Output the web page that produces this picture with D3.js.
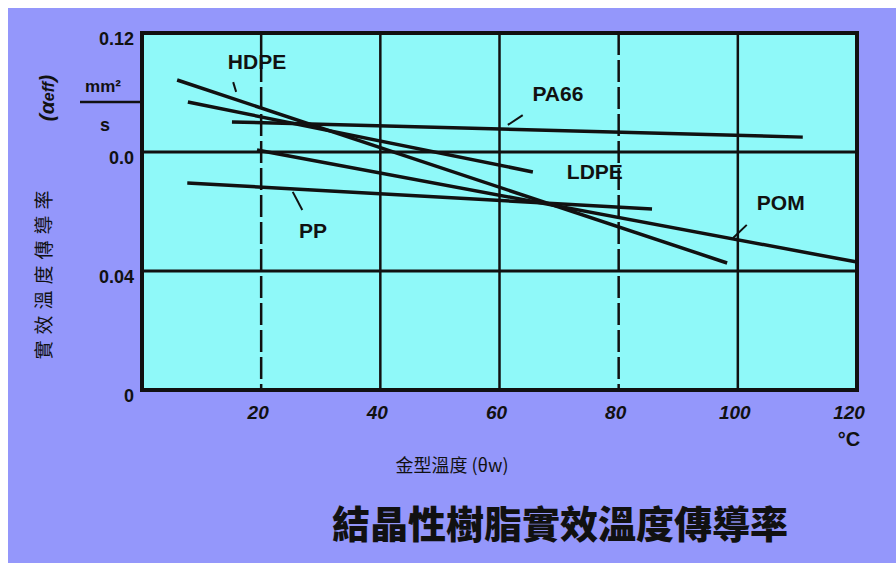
<!DOCTYPE html>
<meta charset="utf-8">
<head>
    <title>結晶性樹脂實效溫度傳導率</title>
    <script src="https://cdn.jsdelivr.net/npm/d3@7"></script>
</head>

<style>
    body { margin: 0; background: #fff; }
    text { font-family: "Liberation Sans", Arial, sans-serif; fill: #111; }
    .cjk { font-family: "Noto Sans CJK TC", "Noto Sans CJK JP", sans-serif; }
</style>

<svg></svg>

<script>
    // chart values
    var xTicks = [20, 40, 60, 80, 100, 120];
    var xTickLabels = ["20", "40", "60", "80", "100", "120"];
    var yTicks = [0, 0.04, 0.08, 0.12];
    var yTickLabels = ["0", "0.04", "0.0", "0.12"];
    var dashedX = [20, 80];

    var hdpe = [[5.9, 0.1042], [98.2, 0.0427]];
    var ldpe = [[7.7, 0.0968], [65.6, 0.0733]];
    var pp   = [[7.6, 0.0696], [85.6, 0.0608]];
    var pa66 = [[15.1, 0.0901], [110.9, 0.0850]];
    var pom  = [[19.3, 0.0807], [120, 0.0430]];

    var seriesNames = ["HDPE", "LDPE", "PP", "PA66", "POM"];
    var seriesData = [hdpe, ldpe, pp, pa66, pom];

    // label position [x, y] and leader [x1, y1, x2, y2], in data units
    var labelPos = [[19.3, 0.1106], [76, 0.0733], [28.7, 0.0538], [69.8, 0.0998], [107.2, 0.0629]];
    var leaders = [
        [15.3, 0.1035, 15.8, 0.1002],
        null,
        [25.3, 0.0666, 26.9, 0.0605],
        [61.4, 0.0891, 63.9, 0.0924],
        [99.2, 0.0511, 101.5, 0.0555]
    ];

    var W = 896, H = 563;
    var svg = d3.select('svg').attr('width', W).attr('height', H);

    svg.append('rect').attr('x', 8).attr('y', 8).attr('width', W - 8).attr('height', H - 8)
        .attr('fill', '#9497fb');

    var x = d3.scaleLinear().domain([0, 120]).range([142, 857]);
    var y = d3.scaleLinear().domain([0, 0.12]).range([390, 33]);

    // plot area
    svg.append('rect')
        .attr('x', x(0)).attr('y', y(0.12))
        .attr('width', x(120) - x(0)).attr('height', y(0) - y(0.12))
        .attr('fill', '#8ff9f9');

    // grid
    svg.selectAll('.vgrid').data(xTicks.slice(0, 5)).enter()
        .append('line')
        .attr('x1', function (d) { return x(d); })
        .attr('x2', function (d) { return x(d); })
        .attr('y1', y(0.12)).attr('y2', y(0))
        .attr('stroke', '#111').attr('stroke-width', 2.5)
        .attr('stroke-dasharray', function (d) { return dashedX.indexOf(d) >= 0 ? '22,5' : null; });

    svg.selectAll('.hgrid').data([0.04, 0.08]).enter()
        .append('line')
        .attr('x1', x(0)).attr('x2', x(120))
        .attr('y1', function (d) { return y(d); })
        .attr('y2', function (d) { return y(d); })
        .attr('stroke', '#111').attr('stroke-width', 3);

    // border
    svg.append('rect')
        .attr('x', x(0)).attr('y', y(0.12))
        .attr('width', x(120) - x(0)).attr('height', y(0) - y(0.12))
        .attr('fill', 'none').attr('stroke', '#111').attr('stroke-width', 4);

    // series
    var line = d3.line()
        .x(function (d) { return x(d[0]); })
        .y(function (d) { return y(d[1]); });

    svg.selectAll('.series').data(seriesData).enter()
        .append('path')
        .attr('d', line)
        .attr('fill', 'none').attr('stroke', '#111').attr('stroke-width', 3.5);

    svg.selectAll('.leader').data(leaders.filter(function (d) { return d; })).enter()
        .append('line')
        .attr('x1', function (d) { return x(d[0]); })
        .attr('y1', function (d) { return y(d[1]); })
        .attr('x2', function (d) { return x(d[2]); })
        .attr('y2', function (d) { return y(d[3]); })
        .attr('stroke', '#111').attr('stroke-width', 2);

    svg.selectAll('.slabel').data(seriesNames).enter()
        .append('text')
        .attr('x', function (d, i) { return x(labelPos[i][0]); })
        .attr('y', function (d, i) { return y(labelPos[i][1]); })
        .attr('dy', '0.36em')
        .attr('text-anchor', 'middle')
        .attr('font-size', 21).attr('font-weight', 'bold')
        .text(function (d) { return d; });

    // tick labels
    svg.selectAll('.ylab').data(yTicks).enter()
        .append('text')
        .attr('x', 134)
        .attr('y', function (d) { return y(d) + 6; })
        .attr('dy', '0.36em')
        .attr('text-anchor', 'end')
        .attr('font-size', 18).attr('font-weight', 'bold')
        .text(function (d, i) { return yTickLabels[i]; });

    svg.selectAll('.xlab').data(xTicks).enter()
        .append('text')
        .attr('x', function (d) { return d === 120 ? x(d) - 8 : x(d) - 3; })
        .attr('y', y(0) + 22)
        .attr('dy', '0.36em')
        .attr('text-anchor', 'middle')
        .attr('font-size', 19).attr('font-weight', 'bold').attr('font-style', 'italic')
        .text(function (d, i) { return xTickLabels[i]; });

    svg.append('text')
        .attr('x', x(120) - 8).attr('y', y(0) + 56)
        .attr('text-anchor', 'middle')
        .attr('font-size', 20).attr('font-weight', 'bold')
        .text('°C');

    // unit mm²/s
    svg.append('line').attr('x1', 80).attr('x2', x(0)).attr('y1', 102).attr('y2', 102)
        .attr('stroke', '#111').attr('stroke-width', 2.5);
    svg.append('text').attr('x', 103).attr('y', 92).attr('text-anchor', 'middle')
        .attr('font-size', 17).attr('font-weight', 'bold').text('mm²');
    svg.append('text').attr('x', 105).attr('y', 131).attr('text-anchor', 'middle')
        .attr('font-size', 18).attr('font-weight', 'bold').text('s');

    // y axis title
    var yt = svg.append('text')
        .attr('transform', 'translate(54,98) rotate(-90)')
        .attr('text-anchor', 'middle')
        .attr('font-size', 21).attr('font-weight', 'bold').attr('font-style', 'italic');
    yt.append('tspan').text('(α');
    yt.append('tspan').attr('font-size', 16).text('eff');
    yt.append('tspan').text(')');

    svg.append('text')
        .attr('class', 'cjk')
        .attr('transform', 'translate(51,272) rotate(-90)')
        .attr('text-anchor', 'middle')
        .attr('font-size', 19).attr('letter-spacing', 6)
        .text('實效溫度傳導率');

    svg.append('text')
        .attr('class', 'cjk')
        .attr('x', 452).attr('y', 472)
        .attr('text-anchor', 'middle')
        .attr('font-size', 18)
        .text('金型溫度 (θw)');

    svg.append('text')
        .attr('class', 'cjk')
        .attr('x', 560).attr('y', 538)
        .attr('text-anchor', 'middle')
        .attr('font-size', 38).attr('font-weight', 900)
        .text('結晶性樹脂實效溫度傳導率');
</script>
